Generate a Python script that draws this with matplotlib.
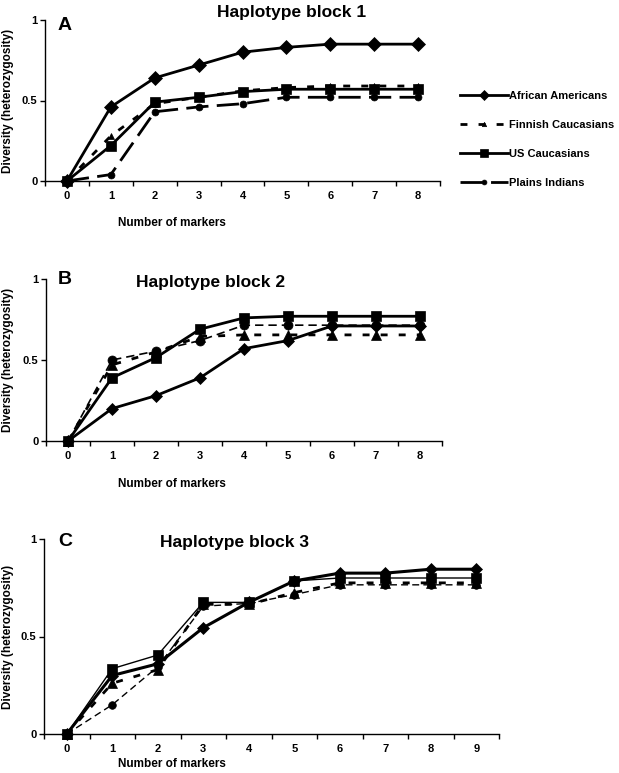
import matplotlib
matplotlib.use("Agg")
import matplotlib.pyplot as plt
import numpy as np

plt.rcParams['font.family'] = ['Liberation Sans', 'DejaVu Sans']
plt.rcParams['font.weight'] = 'bold'

populations = ["African Americans", "Finnish Caucasians", "US Caucasians", "Plains Indians"]

# Haplotype block 1 (markers 0..8)
markers_a = [0, 1, 2, 3, 4, 5, 6, 7, 8]
a_african = [0, 0.46, 0.64, 0.72, 0.80, 0.83, 0.85, 0.85, 0.85]
a_finnish = [0, 0.28, 0.48, 0.52, 0.56, 0.58, 0.59, 0.59, 0.59]
a_us      = [0, 0.22, 0.49, 0.52, 0.555, 0.57, 0.57, 0.57, 0.57]
a_plains  = [0, 0.04, 0.43, 0.46, 0.48, 0.52, 0.52, 0.52, 0.52]

# Haplotype block 2 (markers 0..8)
markers_b = [0, 1, 2, 3, 4, 5, 6, 7, 8]
b_african = [0, 0.20, 0.28, 0.39, 0.57, 0.62, 0.71, 0.71, 0.71]
b_finnish = [0, 0.47, 0.55, 0.645, 0.655, 0.655, 0.655, 0.655, 0.655]
b_us      = [0, 0.39, 0.515, 0.69, 0.76, 0.77, 0.77, 0.77, 0.77]
b_plains  = [0, 0.50, 0.555, 0.62, 0.715, 0.715, 0.715, 0.715, 0.715]

# Haplotype block 3 (markers 0..9)
markers_c = [0, 1, 2, 3, 4, 5, 6, 7, 8, 9]
c_african = [0, 0.30, 0.36, 0.545, 0.675, 0.785, 0.825, 0.825, 0.845, 0.845]
c_finnish = [0, 0.26, 0.33, 0.665, 0.665, 0.725, 0.775, 0.775, 0.775, 0.775]
c_us      = [0, 0.335, 0.405, 0.675, 0.675, 0.785, 0.80, 0.80, 0.80, 0.80]
c_plains  = [0, 0.15, 0.345, 0.655, 0.67, 0.715, 0.765, 0.765, 0.765, 0.765]

titles = ["Haplotype block 1", "Haplotype block 2", "Haplotype block 3"]
letters = ["A", "B", "C"]
yticks = [0, 0.5, 1]
yticklabels = ["0", "0.5", "1"]

fig = plt.figure(figsize=(6.19, 7.73), dpi=100)
W, H = 619, 773

def px_axes(left, right, top, bottom):
    return fig.add_axes([left / W, 1 - bottom / H, (right - left) / W, (bottom - top) / H])

axA = px_axes(45, 440, 20, 181)
axB = px_axes(46, 442, 279, 441)
axC = px_axes(44, 499, 539, 734)

panels = [
    (axA, markers_a, [a_african, a_finnish, a_us, a_plains], (-0.5, 8.15)),
    (axB, markers_b, [b_african, b_finnish, b_us, b_plains], (-0.5, 8.5)),
    (axC, markers_c, [c_african, c_finnish, c_us, c_plains], (-0.5, 9.5)),
]

# styles per panel
styles = [
    [dict(lw=2.0, ls='-', marker='D', ms=7),
     dict(lw=2.0, ls=(0, (2.5, 4)), marker='^', ms=4.5),
     dict(lw=2.0, ls='-', marker='s', ms=7.5),
     dict(lw=2.0, ls=(0, (8, 3)), marker='o', ms=5)],
    [dict(lw=2.0, ls='-', marker='D', ms=6.5),
     dict(lw=2.0, ls=(0, (2.5, 4)), marker='^', ms=6.5),
     dict(lw=2.0, ls='-', marker='s', ms=6.5),
     dict(lw=1.2, ls=(0, (5, 3)), marker='o', ms=6.5)],
    [dict(lw=2.2, ls='-', marker='D', ms=6.5),
     dict(lw=2.0, ls=(0, (2.5, 4)), marker='^', ms=6.5),
     dict(lw=1.0, ls='-', marker='s', ms=7),
     dict(lw=1.0, ls=(0, (5, 3)), marker='o', ms=5.5)],
]

title_x = [292, 211, 235]
title_y = [12, 282, 542]
letter_y = [26, 280, 541]
xlabel_y = [-0.224, -0.226, -0.123]

for i, (ax, xs, series, xlim) in enumerate(panels):
    handles = {}
    for k in [3, 1, 2, 0]:
        st = styles[i][k]
        h, = ax.plot(xs, series[k], color='black', linewidth=st['lw'], linestyle=st['ls'],
                     marker=st['marker'], markersize=st['ms'], markerfacecolor='black',
                     markeredgecolor='black', markeredgewidth=0.5,
                     label=populations[k], clip_on=False)
        handles[k] = h
    ax.set_xlim(*xlim)
    ax.set_ylim(0, 1)
    ax.spines['top'].set_visible(False)
    ax.spines['right'].set_visible(False)
    ax.spines['left'].set_linewidth(1.0)
    ax.spines['bottom'].set_linewidth(1.0)
    ax.set_xticks(xs)
    ax.set_xticklabels([str(v) for v in xs], fontsize=8, fontweight='bold')
    ax.set_xticks(np.arange(-0.5, xs[-1] + 0.6, 1.0), minor=True)
    ax.tick_params(axis='x', which='major', length=0, pad=7)
    ax.tick_params(axis='x', which='minor', length=3.5, direction='out', width=1)
    ax.set_yticks(yticks)
    ax.set_yticklabels(yticklabels, fontsize=8, fontweight='bold')
    ax.tick_params(axis='y', length=3.5, direction='out', width=1, pad=2)
    ax.set_ylabel("Diversity (heterozygosity)", fontsize=8.5, fontweight='bold')
    ax_w = ax.get_position().width * W
    left_px = ax.get_position().x0 * W
    ax.yaxis.set_label_coords((14 - left_px) / ax_w, 0.5)
    ax.set_xlabel("Number of markers", fontsize=8.5, fontweight='bold')
    ax.xaxis.set_label_coords((172 - left_px) / ax_w, xlabel_y[i])
    fig.text(title_x[i] / W, 1 - title_y[i] / H, titles[i], fontsize=12.5, fontweight='bold',
             ha='center', va='center')
    fig.text(65 / W, 1 - letter_y[i] / H, letters[i], fontsize=14, fontweight='bold',
             ha='center', va='center')
    if i == 0:
        fig.legend([handles[0], handles[1], handles[2], handles[3]], populations,
                   loc='upper left', bbox_to_anchor=(450 / W, 1 - 81 / H),
                   frameon=False, handlelength=4.3, handletextpad=0.1,
                   labelspacing=1.72, markerscale=0.7, prop=dict(weight='bold', size=8))

fig.savefig("out.png", dpi=100)
